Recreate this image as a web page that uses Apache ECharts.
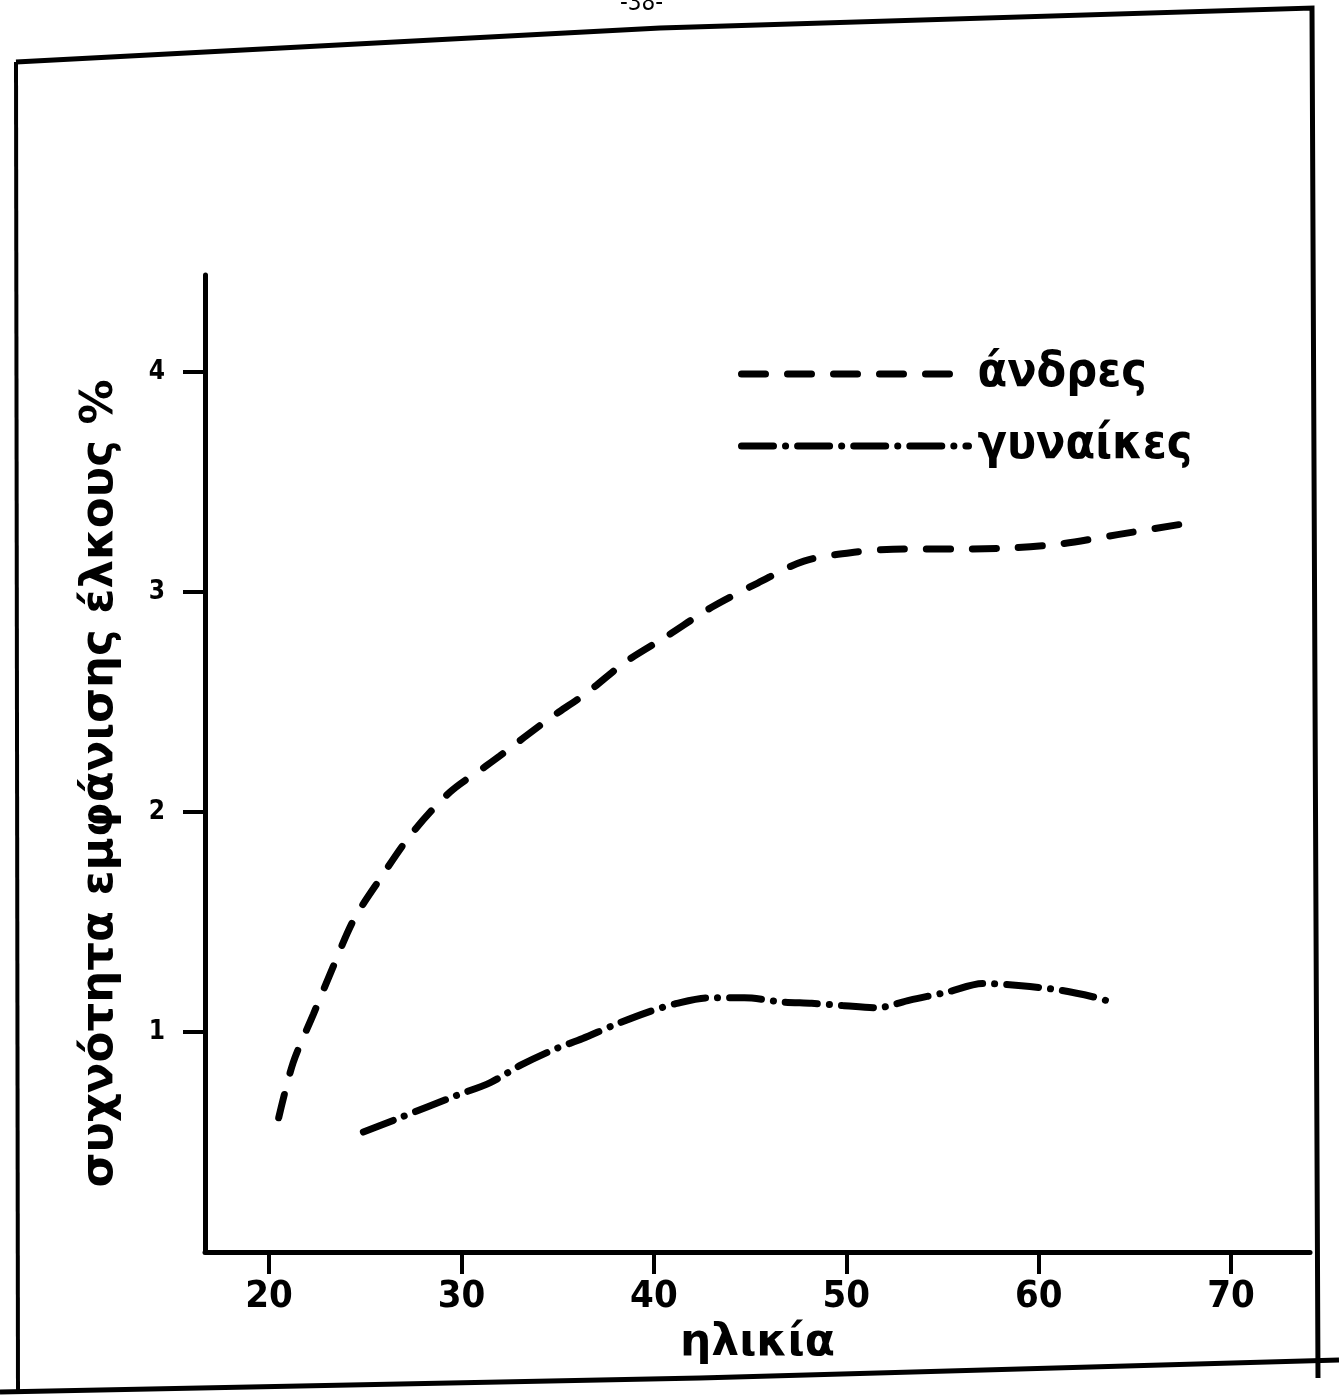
<!DOCTYPE html>
<html>
<head>
<meta charset="utf-8">
<script src="https://cdn.jsdelivr.net/npm/echarts@6/dist/echarts.min.js"></script>
<style>html,body{margin:0;padding:0;background:#fff}#c{width:1339px;height:1396px}</style>
</head>
<body>
<div id="c"></div>
<script>
// ages (x) and frequency % (y)
var menAge = [20.5, 21.25, 22.3, 23.3, 24.4, 25.8, 27.4, 29.4, 31.3, 32.0, 34.5, 36.5, 38.5, 40.7, 43.0, 45.4, 47.8, 50.4, 53.0, 55.8, 58.6, 61.3, 64.1, 67.6];
var menVal = [0.61, 0.86, 1.08, 1.29, 1.51, 1.70, 1.90, 2.09, 2.21, 2.255, 2.42, 2.54, 2.68, 2.80, 2.93, 3.04, 3.14, 3.18, 3.195, 3.195, 3.20, 3.22, 3.26, 3.31];
var womenAge = [24.9, 26.8, 29.7, 31.5, 33.1, 34.8, 36.3, 37.9, 39.7, 41.2, 42.8, 44.7, 46.7, 48.2, 49.8, 51.6, 53.3, 55.2, 57.1, 59.1, 61.1, 62.8, 64.0];
var womenVal = [0.545, 0.61, 0.71, 0.77, 0.85, 0.92, 0.97, 1.03, 1.09, 1.13, 1.155, 1.155, 1.136, 1.13, 1.12, 1.11, 1.145, 1.18, 1.22, 1.21, 1.19, 1.16, 1.13];
var xTicks = [20, 30, 40, 50, 60, 70];
var yTicks = [1, 2, 3, 4];
var seriesNames = ['άνδρες', 'γυναίκες'];
var xName = 'ηλικία';
var yName = 'συχνότητα εμφάνισης έλκους %';

function pairs(a, b) { return a.map(function (v, i) { return [v, b[i]]; }); }

var FONT = '"DejaVu Sans", sans-serif';
var FONTC = '"DejaVu Sans Condensed", "DejaVu Sans", sans-serif';
var chart = echarts.init(document.getElementById('c'), null, {renderer: 'canvas'});
chart.setOption({
  backgroundColor: '#ffffff',
  animation: false,
  grid: {left: 205, top: 275, width: 1105, height: 977, containLabel: false},
  legend: {
    orient: 'vertical', left: 733, top: 345, itemWidth: 227, itemHeight: 14, itemGap: 24,
    itemStyle: {opacity: 0},
    lineStyle: {width: 7, cap: 'round'},
    textStyle: {fontSize: 48, fontWeight: 'bold', color: '#000', fontFamily: FONTC, padding: [0, 0, 0, 4]},
    data: seriesNames
  },
  xAxis: {
    type: 'value', min: 16.67, max: 74.1,
    splitLine: {show: false},
    axisLine: {lineStyle: {color: '#000', width: 5}},
    axisTick: {customValues: xTicks, length: 22, lineStyle: {color: '#000', width: 4}},
    axisLabel: {customValues: xTicks, margin: 26, fontSize: 38, fontWeight: 'bold', color: '#000', fontFamily: FONTC},
    name: xName, nameLocation: 'middle', nameGap: 70,
    nameTextStyle: {fontSize: 44, fontWeight: 'bold', color: '#000', fontFamily: FONT}
  },
  yAxis: {
    type: 'value', min: 0, max: 4.44,
    splitLine: {show: false},
    axisLine: {lineStyle: {color: '#000', width: 5}},
    axisTick: {customValues: yTicks, length: 22, lineStyle: {color: '#000', width: 4}},
    axisLabel: {customValues: yTicks, margin: 40, fontSize: 26, fontWeight: 'bold', color: '#000', fontFamily: FONTC},
    name: yName, nameLocation: 'middle', nameGap: 82, nameRotate: 90,
    nameTextStyle: {fontSize: 45, fontWeight: 'bold', color: '#000', fontFamily: FONT, padding: [0, 0, 0, -40]}
  },
  series: [
    {
      name: seriesNames[0], type: 'line', data: pairs(menAge, menVal), smooth: 0.3,
      symbol: 'none', showSymbol: false,
      itemStyle: {color: '#000'},
      lineStyle: {color: '#000', width: 7, type: [24, 22], cap: 'round'}
    },
    {
      name: seriesNames[1], type: 'line', data: pairs(womenAge, womenVal), smooth: 0.3,
      symbol: 'none', showSymbol: false,
      itemStyle: {color: '#000'},
      lineStyle: {color: '#000', width: 7, type: [32, 12, 0.1, 12], cap: 'round'}
    }
  ],
  graphic: [
    {type: 'polyline', silent: true, shape: {points: [[16, 62], [660, 28], [1312, 8], [1318, 1378]]}, style: {stroke: '#000', lineWidth: 5, fill: null}},
    {type: 'polyline', silent: true, shape: {points: [[16, 62], [18, 1392]]}, style: {stroke: '#000', lineWidth: 4, fill: null}},
    {type: 'polyline', silent: true, shape: {points: [[0, 1392], [700, 1378], [1339, 1360]]}, style: {stroke: '#000', lineWidth: 5, fill: null}},
    {type: 'text', left: 620, top: -8, silent: true, style: {text: '-38-', font: '24px "DejaVu Sans Condensed", sans-serif', fill: '#000'}}
  ]
});
</script>
</body>
</html>
